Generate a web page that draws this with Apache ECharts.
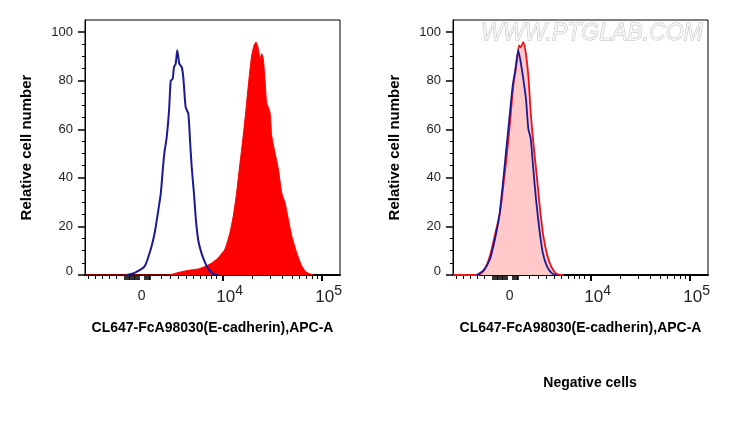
<!DOCTYPE html>
<html>
<head>
<meta charset="utf-8">
<title>E-cadherin flow histograms</title>
<script src="https://cdn.jsdelivr.net/npm/echarts@6.0.0/dist/echarts.min.js"></script>
<style>
  html, body { margin: 0; padding: 0; background: #fff; }
  #chart { width: 729px; height: 421px; }
</style>
</head>
<body>
<div id="chart"></div>
<script>
// x is a display position in decades: 10^4 sits at 4, 10^5 at 5 (biexponential axis, 0 near 3.18)
const xMin = 2.609, xMax = 5.185;
const xLabelValues = [3.18, 4, 5];
const xLabelBase = ['0', '10', '10'];
const xLabelExp = ['', '4', '5'];
const xMajorTicks = [4, 5];
const xMinorTicks = [2.639, 2.710, 2.781, 2.851, 2.922,
  3.384, 3.468, 3.552, 3.636, 3.703, 3.771, 3.838, 3.889, 3.939,
  4.301, 4.477, 4.602, 4.699, 4.778, 4.845, 4.903, 4.954];
// dense ticks around zero (drawn a bit heavier)
const xZeroTicks = [3.013, 3.030, 3.047, 3.064, 3.081, 3.098, 3.115, 3.132, 3.149, 3.215, 3.232, 3.249, 3.265];
const yLabelValues = [0, 20, 40, 60, 80, 100];
const yMinorTicks = [5, 10, 15, 25, 30, 35, 45, 50, 55, 65, 70, 75, 85, 90, 95];

const xTitle = 'CL647-FcA98030(E-cadherin),APC-A';
const yTitle = 'Relative cell number';

// left panel: stained (red fill) and control (blue line)
const leftRedX = [2.609, 3.468, 3.501, 3.636, 3.754, 3.821, 3.872, 3.939, 3.973, 4.023, 4.074, 4.107, 4.141, 4.168, 4.192, 4.215, 4.242, 4.269, 4.293, 4.316, 4.336, 4.360, 4.377, 4.394, 4.410, 4.427, 4.444, 4.478, 4.495, 4.528, 4.562, 4.596, 4.629, 4.663, 4.697, 4.747, 4.798, 4.848, 4.915];
const leftRedY = [0, 0, 0.5, 1.8, 2.5, 3.5, 4.5, 6.5, 8, 10.7, 17.6, 24.4, 34, 43.7, 52, 60.2, 71.1, 82.2, 90.4, 94.5, 95.9, 93.2, 89, 91.1, 89, 80.8, 71.1, 67, 57.4, 50.5, 43.7, 34, 29.9, 23.1, 16.2, 9.3, 3.8, 1.1, 0];
const leftBlueX = [3.030, 3.064, 3.115, 3.182, 3.215, 3.248, 3.283, 3.316, 3.349, 3.374, 3.394, 3.410, 3.434, 3.458, 3.475, 3.495, 3.508, 3.525, 3.541, 3.562, 3.586, 3.602, 3.626, 3.653, 3.670, 3.687, 3.710, 3.730, 3.754, 3.788, 3.821, 3.855, 3.905, 3.956];
const leftBlueY = [0, 0.3, 1, 2.5, 3.8, 7.3, 12, 18, 26.5, 33.4, 43, 50, 56.7, 67.7, 80, 80.8, 85.6, 87, 92.5, 87, 85.6, 81.4, 69, 66.4, 55.4, 44.4, 33.4, 22.4, 14.1, 8.7, 5.2, 2.5, 0.4, 0];

// right panel: negative cells, stained (pink fill) and control (blue line)
const rightRedX = [2.609, 2.865, 2.932, 2.983, 3.031, 3.084, 3.117, 3.152, 3.185, 3.218, 3.253, 3.276, 3.293, 3.319, 3.343, 3.370, 3.394, 3.420, 3.455, 3.488, 3.521, 3.562, 3.606, 3.657, 3.723];
const rightRedY = [0, 0, 2.5, 8, 16.2, 25.8, 36.8, 49.2, 62.9, 78, 87.6, 94.5, 93.8, 95.9, 91.8, 82.2, 67, 54.7, 40.9, 27.2, 16.2, 8, 3.1, 0.4, 0];
const rightBlueX = [2.848, 2.915, 2.983, 3.033, 3.077, 3.111, 3.144, 3.178, 3.212, 3.235, 3.269, 3.293, 3.319, 3.346, 3.370, 3.394, 3.420, 3.447, 3.481, 3.515, 3.556, 3.606, 3.657];
const rightBlueY = [0, 1.8, 6.6, 14.8, 24.4, 36.8, 50.5, 64.3, 78, 83.5, 92.5, 87.6, 80.8, 72.5, 60.2, 56.1, 43.7, 31.3, 19, 9.3, 3.8, 0.8, 0];

function zip(xs, ys) {
  return xs.map((x, i) => [x, ys[i]]);
}

function tickAxis(gridIndex, values, len, width) {
  return {
    gridIndex: gridIndex, type: 'value', min: xMin, max: xMax, position: 'bottom',
    axisLine: { show: false, onZero: false },
    axisTick: { show: true, customValues: values, length: len, lineStyle: { color: '#000', width: width } },
    axisLabel: { show: false },
    splitLine: { show: false }
  };
}

function xAxes(gridIndex) {
  return [{
    gridIndex: gridIndex, type: 'value', min: xMin, max: xMax, position: 'bottom',
    name: xTitle, nameLocation: 'middle', nameGap: 46,
    nameTextStyle: { fontSize: 14, fontWeight: 'bold', color: '#000' },
    axisLine: { show: true, onZero: false, lineStyle: { color: '#000', width: 2 } },
    axisTick: { show: true, customValues: xMajorTicks, length: 6, lineStyle: { color: '#000', width: 2 } },
    axisLabel: {
      customValues: xLabelValues, margin: 9, color: '#222',
      formatter: function (v) {
        const i = xLabelValues.indexOf(v);
        if (i < 0) return '';
        if (!xLabelExp[i]) return '{o|' + xLabelBase[i] + '}';
        return '{sp| }{b|' + xLabelBase[i] + '}{s|' + xLabelExp[i] + '}';
      },
      rich: {
        o: { fontSize: 14, lineHeight: 22, padding: [3, 0, 0, 0], color: '#222' },
        sp: { width: 14, fontSize: 14 },
        b: { fontSize: 17, lineHeight: 22, verticalAlign: 'bottom', color: '#222' },
        s: { fontSize: 14, lineHeight: 14, verticalAlign: 'top', color: '#222' }
      }
    },
    splitLine: { show: false }
  }, tickAxis(gridIndex, xMinorTicks, 4, 1), tickAxis(gridIndex, xZeroTicks, 5, 1.6)];
}

function yAxes(gridIndex) {
  return [{
    gridIndex: gridIndex, type: 'value', min: 0, max: 105, position: 'left',
    name: yTitle, nameLocation: 'middle', nameGap: 51, nameRotate: 90,
    nameTextStyle: { fontSize: 15, fontWeight: 'bold', color: '#000' },
    axisLine: { show: true, onZero: false, lineStyle: { color: '#000', width: 1 } },
    axisTick: { show: true, customValues: yLabelValues, length: 7, lineStyle: { color: '#000', width: 1.5 } },
    axisLabel: {
      customValues: yLabelValues, margin: 12, fontSize: 13, color: '#222',
      formatter: function (v) { return v === 0 ? '{z|0}' : String(v); },
      rich: { z: { fontSize: 13, color: '#222', padding: [0, 0, 8, 0] } }
    },
    splitLine: { show: false }
  }, {
    gridIndex: gridIndex, type: 'value', min: 0, max: 105, position: 'left',
    axisLine: { show: false, onZero: false },
    axisTick: { show: true, customValues: yMinorTicks, length: 3, lineStyle: { color: '#000', width: 1 } },
    axisLabel: { show: false },
    splitLine: { show: false }
  }];
}

function line(name, xi, yi, data, color, width, fill) {
  const s = {
    name: name, type: 'line', xAxisIndex: xi, yAxisIndex: yi,
    data: data, symbol: 'none', smooth: 0.2,
    lineStyle: { color: color, width: width }
  };
  if (fill) s.areaStyle = { color: fill, opacity: 1 };
  return s;
}

const chart = echarts.init(document.getElementById('chart'));
const options = {
  animation: false,
  backgroundColor: '#fff',
  textStyle: { fontFamily: '"Liberation Sans", Arial, sans-serif' },
  grid: [
    { left: 85, top: 20, width: 255, height: 255, show: true, borderColor: '#000', borderWidth: 1 },
    { left: 453, top: 20, width: 255, height: 255, show: true, borderColor: '#000', borderWidth: 1 }
  ],
  xAxis: xAxes(0).concat(xAxes(1)),
  yAxis: yAxes(0).concat(yAxes(1)),
  series: [
    line('E-cadherin', 0, 0, zip(leftRedX, leftRedY), '#ff0000', 1, '#ff0000'),
    line('Control', 0, 0, zip(leftBlueX, leftBlueY), '#1a1a96', 2),
    line('E-cadherin', 3, 2, zip(rightRedX, rightRedY), '#e8141a', 1.8, '#ffc9c9'),
    line('Control', 3, 2, zip(rightBlueX, rightBlueY), '#1a1a96', 1.8)
  ],
  graphic: [
    {
      type: 'text', x: 592, y: 34, z: 100,
      style: {
        text: 'WWW.PTGLAB.COM', align: 'center', verticalAlign: 'middle',
        font: 'italic 23px "Liberation Sans"', fill: '#f5f5f5', stroke: '#b8b8b8', lineWidth: 0.9
      }
    },
    {
      type: 'text', x: 590, y: 383,
      style: {
        text: 'Negative cells', align: 'center', verticalAlign: 'middle',
        font: 'bold 14px "Liberation Sans"', fill: '#000'
      }
    }
  ]
};
chart.setOption(options);
</script>
</body>
</html>
